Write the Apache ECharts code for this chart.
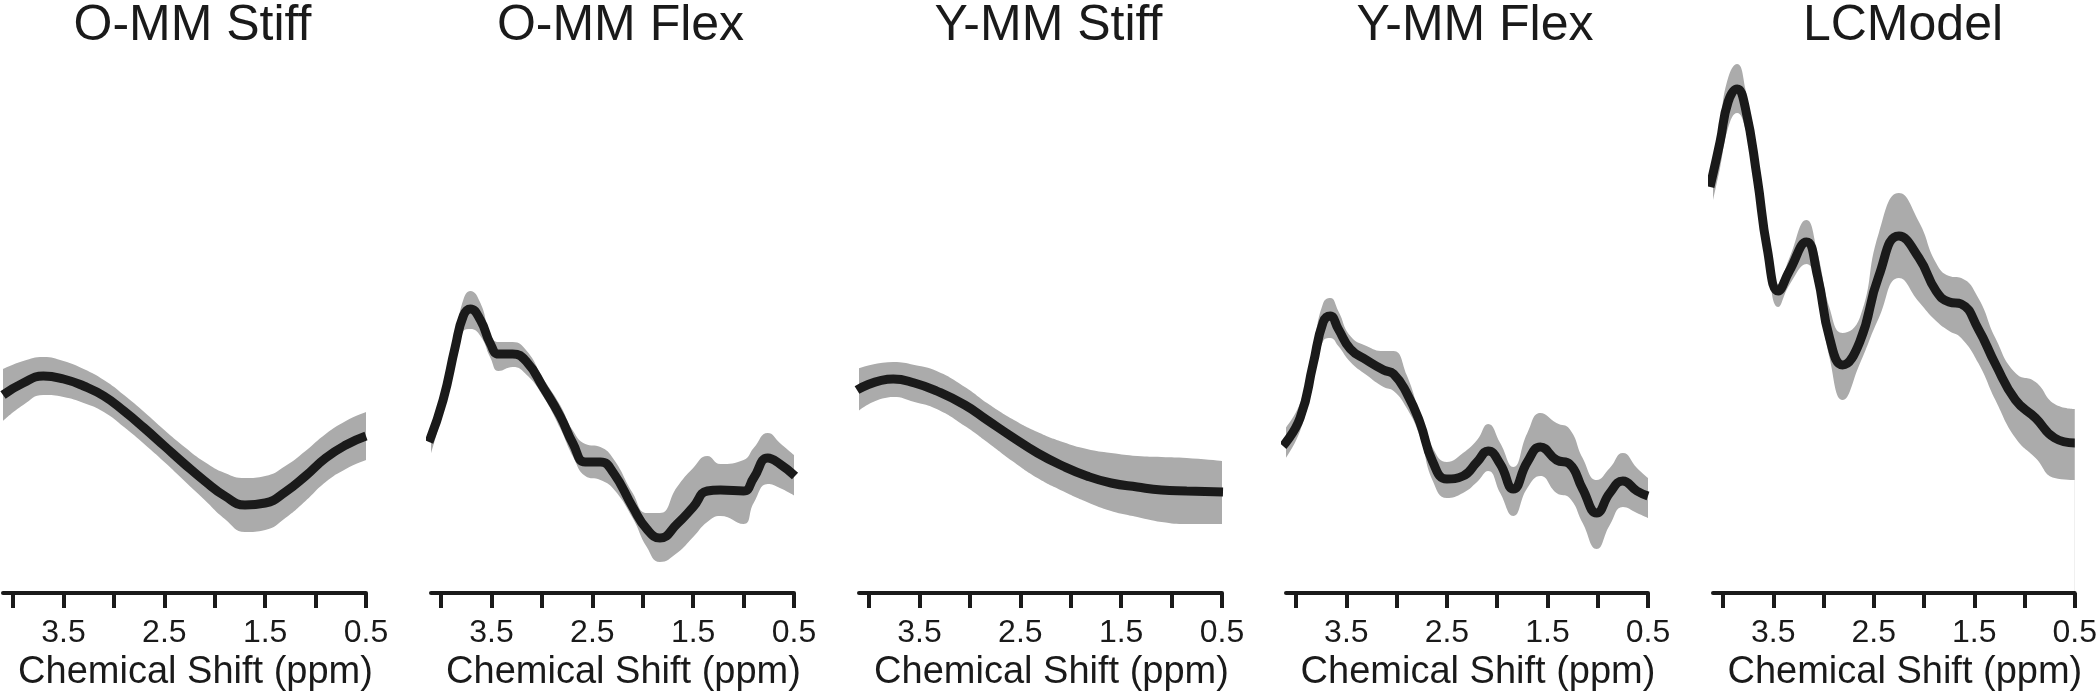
<!DOCTYPE html>
<html><head><meta charset="utf-8">
<script src="https://cdn.jsdelivr.net/npm/echarts@6/dist/echarts.min.js"></script>
<style>html,body{margin:0;padding:0;background:#fff}#c{width:2100px;height:697px}</style>
</head><body><div id="c"></div>
<script>
// ---- data (arbitrary amplitude units) ----
const panelTitles = ['O-MM Stiff', 'O-MM Flex', 'Y-MM Stiff', 'Y-MM Flex', 'LCModel'];
const xTickValues = [0.5, 1.0, 1.5, 2.0, 2.5, 3.0, 3.5, 4.0];
const xLabelValues = [0.5, 1.5, 2.5, 3.5];
const xAxisName = 'Chemical Shift (ppm)';

const ppm_OMMStiff   = [4.1, 3.9, 3.7, 3.5, 3.3, 3.1, 2.9, 2.7, 2.5, 2.3, 2.1, 1.9, 1.7, 1.5, 1.3, 1.1, 0.9, 0.7, 0.5];
const mean_OMMStiff  = [198, 210, 217, 214, 207, 197, 182, 165, 147, 129, 112, 97, 88, 90, 101, 117, 135, 148, 157];
const upper_OMMStiff = [224, 232, 236, 232, 224, 213, 198, 181, 163, 146, 131, 120, 115, 117, 127, 142, 159, 172, 181];
const lower_OMMStiff = [172, 188, 198, 196, 190, 181, 166, 149, 131, 112, 93, 74, 61, 63, 75, 92, 111, 124, 133];

const ppm_OMMFlex   = [4.12, 3.98, 3.86, 3.78, 3.71, 3.61, 3.51, 3.43, 3.29, 3.15, 2.99, 2.82, 2.69, 2.57, 2.42, 2.29, 2.10, 1.96, 1.83, 1.66, 1.50, 1.36, 1.23, 1.00, 0.90, 0.76, 0.64, 0.49];
const mean_OMMFlex  = [151, 193, 246, 277, 284, 273, 249, 239, 239, 231, 206, 177, 149, 131, 131, 120, 86, 64, 55, 69, 86, 102, 103, 102, 115, 135, 129, 117];
const upper_OMMFlex = [155, 200, 256, 293, 302, 290, 258, 251, 251, 242, 215, 188, 162, 149, 146, 134, 100, 80, 80, 106, 125, 137, 129, 133, 145, 160, 150, 137];
const lower_OMMFlex = [133, 183, 235, 262, 264, 257, 235, 222, 226, 218, 197, 165, 136, 117, 113, 104, 75, 46, 31, 40, 56, 71, 77, 69, 90, 109, 105, 97];

const ppm_YMMStiff   = [4.12, 3.76, 3.55, 3.33, 3.05, 2.83, 2.58, 2.33, 2.08, 1.84, 1.6, 1.34, 1.1, 0.85, 0.49];
const mean_YMMStiff  = [203, 214, 210, 202, 188, 173, 156, 140, 127, 117, 110, 106, 103, 102, 101];
const upper_YMMStiff = [224, 231, 228, 222, 206, 190, 174, 161, 151, 144, 140, 137, 136, 135, 132];
const lower_YMMStiff = [181, 196, 191, 184, 167, 151, 132, 115, 102, 91, 82, 76, 71, 69, 69];

const ppm_YMMFlex   = [4.13, 3.96, 3.83, 3.73, 3.66, 3.58, 3.46, 3.30, 3.13, 3.03, 2.90, 2.77, 2.64, 2.50, 2.34, 2.20, 2.09, 1.97, 1.84, 1.70, 1.57, 1.41, 1.28, 1.15, 1.01, 0.88, 0.75, 0.61, 0.50];
const mean_YMMFlex  = [147, 175, 229, 271, 277, 264, 244, 233, 223, 219, 200, 171, 131, 114, 117, 131, 142, 129, 104, 131, 146, 133, 129, 104, 80, 100, 112, 102, 97];
const upper_YMMFlex = [162, 190, 246, 290, 295, 282, 257, 247, 242, 242, 218, 180, 145, 131, 140, 153, 169, 150, 126, 160, 180, 170, 164, 135, 113, 125, 140, 125, 115];
const lower_YMMFlex = [131, 162, 214, 252, 255, 247, 231, 218, 206, 202, 185, 157, 112, 95, 100, 111, 122, 100, 77, 105, 117, 100, 95, 70, 44, 68, 86, 80, 75];

const ppm_LCModel   = [4.13, 4.03, 3.95, 3.86, 3.78, 3.66, 3.56, 3.45, 3.34, 3.17, 3.06, 2.94, 2.81, 2.64, 2.45, 2.25, 2.05, 1.88, 1.75, 1.63, 1.46, 1.29, 1.09, 0.89, 0.70, 0.50];
const mean_LCModel  = [406, 451, 491, 504, 486, 415, 344, 302, 322, 351, 317, 255, 228, 251, 317, 357, 335, 302, 291, 289, 264, 229, 193, 175, 155, 150];
const upper_LCModel = [408, 470, 515, 529, 505, 425, 352, 309, 335, 373, 340, 285, 260, 275, 360, 400, 371, 330, 317, 315, 295, 255, 220, 211, 189, 184];
const lower_LCModel = [380, 425, 465, 480, 465, 405, 335, 286, 308, 329, 300, 235, 193, 229, 275, 315, 291, 272, 262, 255, 230, 193, 155, 135, 115, 113];

const panels = [
  {ppm: ppm_OMMStiff, mean: mean_OMMStiff, upper: upper_OMMStiff, lower: lower_OMMStiff},
  {ppm: ppm_OMMFlex,  mean: mean_OMMFlex,  upper: upper_OMMFlex,  lower: lower_OMMFlex},
  {ppm: ppm_YMMStiff, mean: mean_YMMStiff, upper: upper_YMMStiff, lower: lower_YMMStiff},
  {ppm: ppm_YMMFlex,  mean: mean_YMMFlex,  upper: upper_YMMFlex,  lower: lower_YMMFlex},
  {ppm: ppm_LCModel,  mean: mean_LCModel,  upper: upper_LCModel,  lower: lower_LCModel}
];

// ---- layout ----
const FONT = '"Liberation Sans", Arial, Helvetica, sans-serif';
const INK = '#1a1a1a';
const BAND = '#ababab';
const gridBoxes = [
  {left: 3, width: 363},
  {left: 431, width: 363},
  {left: 859, width: 363},
  {left: 1286, width: 362},
  {left: 1713, width: 364}
];

const chart = echarts.init(document.getElementById('c'), null, {renderer: 'canvas'});
const grid = [], xAxis = [], yAxis = [], series = [], title = [];

gridBoxes.forEach((g, i) => {
  grid.push({left: g.left, width: g.width, top: 3, bottom: 104, containLabel: false});
  title.push({
    text: panelTitles[i], left: g.left + g.width / 2 + 3, top: -4, textAlign: 'center',
    textStyle: {fontSize: 50, fontWeight: 'normal', color: INK, fontFamily: FONT}
  });
  xAxis.push({
    type: 'value', gridIndex: i, min: 0.5, max: 4.1, inverse: true, z: 10,
    name: xAxisName, nameLocation: 'middle', nameGap: 59,
    nameTextStyle: {fontSize: 38, color: INK, fontFamily: FONT, padding: [0, 0, 0, 22]},
    axisLine: {show: true, onZero: false, lineStyle: {color: INK, width: 4}},
    axisTick: {show: true, customValues: xTickValues, length: 15, lineStyle: {color: INK, width: 4}},
    axisLabel: {show: true, customValues: xLabelValues, margin: 24, fontSize: 32, color: INK, fontFamily: FONT,
      formatter: v => v.toFixed(1)},
    splitLine: {show: false}
  });
  yAxis.push({type: 'value', gridIndex: i, min: 0, max: 590, show: false, splitLine: {show: false}});

  const p = panels[i];
  const upperData = p.ppm.map((x, k) => [x, p.upper[k]]);
  const lowerData = p.ppm.map((x, k) => [x, p.lower[k]]);
  const meanData = p.ppm.map((x, k) => [x, p.mean[k]]);
  // grey band: area under the upper bound, then masked in white below the lower bound
  series.push({
    type: 'line', xAxisIndex: i, yAxisIndex: i, data: upperData,
    smooth: 0.5, showSymbol: false, lineStyle: {opacity: 0, width: 0},
    areaStyle: {color: BAND, opacity: 1, origin: 'start'}, silent: true, z: 1
  });
  series.push({
    type: 'line', xAxisIndex: i, yAxisIndex: i, data: lowerData,
    smooth: 0.5, showSymbol: false, lineStyle: {opacity: 0, width: 0},
    areaStyle: {color: '#ffffff', opacity: 1, origin: 'start'}, silent: true, z: 2
  });
  series.push({
    type: 'line', xAxisIndex: i, yAxisIndex: i, data: meanData,
    smooth: 0.5, showSymbol: false, lineStyle: {color: INK, width: 9, cap: 'butt', join: 'round'}, z: 3
  });
});

chart.setOption({
  animation: false,
  backgroundColor: '#ffffff',
  title, grid, xAxis, yAxis, series
});
</script>
</body></html>
